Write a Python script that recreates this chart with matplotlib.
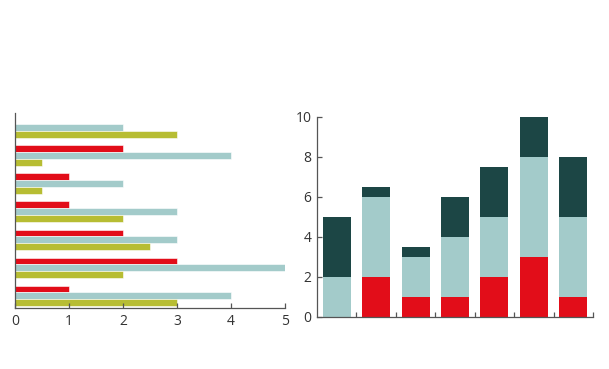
import numpy as np
import matplotlib
matplotlib.use("Agg")
import matplotlib.pyplot as plt

plt.rcParams['font.family'] = ['Open Sans', 'DejaVu Sans']

# the same three series feed both panels
red_vals = [0, 2, 1, 1, 2, 3, 1]
teal_vals = [2, 4, 2, 3, 3, 5, 4]
third_vals = [3, 0.5, 0.5, 2, 2.5, 2, 3]

RED = "#e20d19"
TEAL = "#a3cbca"
OLIVE = "#b7bd33"
DARK = "#1c4645"
AXC = "#555555"
TXT = "#333333"

fig = plt.figure(figsize=(6.09, 3.69), dpi=100)

# left: grouped horizontal bars
ax1 = fig.add_axes([15/609, 61/369, 270/609, 195/369])
n = len(red_vals)
y = np.arange(n)
h = 0.245
ax1.barh(y - h, red_vals, height=h, color=RED, edgecolor="white", linewidth=0.4)
ax1.barh(y, teal_vals, height=h, color=TEAL, edgecolor="white", linewidth=0.4)
ax1.barh(y + h, third_vals, height=h, color=OLIVE, edgecolor="white", linewidth=0.4)
ax1.set_xlim(0, 5)
ax1.set_ylim(6.43, -0.52)
ax1.set_xticks(range(6))
ax1.set_yticks([])

# right: stacked vertical bars
ax2 = fig.add_axes([317/609, 52/369, 276/609, 200/369])
x = np.arange(n)
w = 0.71
bottom2 = np.array(red_vals) + np.array(teal_vals)
ax2.bar(x, red_vals, width=w, color=RED, linewidth=0)
ax2.bar(x, teal_vals, width=w, bottom=red_vals, color=TEAL, linewidth=0)
ax2.bar(x, third_vals, width=w, bottom=bottom2, color=DARK, linewidth=0)
ax2.set_xlim(-0.5, n - 0.5)
ax2.set_ylim(0, 10)
ax2.set_xticks(np.arange(n) + 0.5)
ax2.set_xticklabels([])
ax2.set_yticks(range(0, 11, 2))

for ax in (ax1, ax2):
    for s in ("top", "right"):
        ax.spines[s].set_visible(False)
    for s in ("left", "bottom"):
        ax.spines[s].set_color(AXC)
        ax.spines[s].set_linewidth(0.9)
    ax.tick_params(direction="in", length=3.5, width=0.9, color=AXC,
                   labelsize=10, labelcolor=TXT, pad=4)

fig.savefig("out.png", dpi=100)
